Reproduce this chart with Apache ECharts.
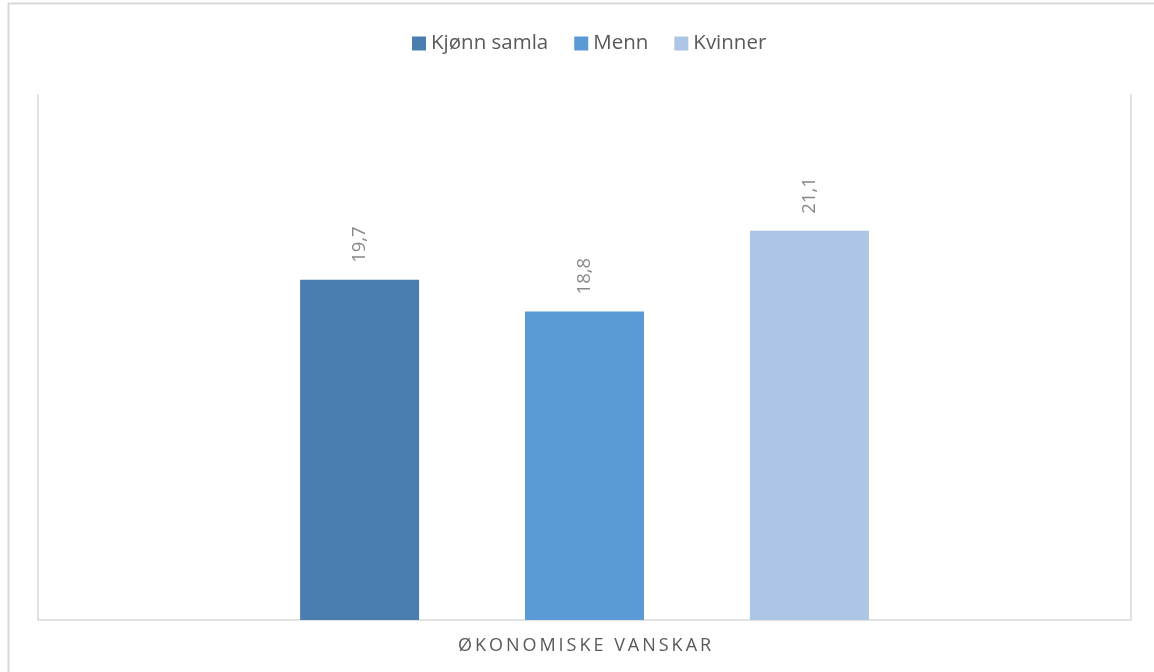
<!DOCTYPE html>
<html><head><meta charset="utf-8">
<script src="https://cdn.jsdelivr.net/npm/echarts@6/dist/echarts.min.js"></script>
<style>html,body{margin:0;padding:0;background:#fff}#c{width:1154px;height:672px}</style>
</head><body><div id="c"></div>
<script>
const categories = ['ØKONOMISKE VANSKAR'];
const seriesNames = ['Kjønn samla', 'Menn', 'Kvinner'];
const valuesSamla = [19.7];
const valuesMenn = [18.8];
const valuesKvinner = [21.1];
const colors = ['#4a7eb0', '#5b9bd5', '#adc6e5'];
const seriesValues = [valuesSamla, valuesMenn, valuesKvinner];

const chart = echarts.init(document.getElementById('c'));
const font = '"Open Sans", Lato, sans-serif';
chart.setOption({
  animation: false,
  graphic: [{
    type: 'rect', shape: { x: 8.5, y: 3.5, width: 1300, height: 800 },
    style: { fill: 'none', stroke: '#d9d9d9', lineWidth: 2 }, silent: true, z: -1
  }],
  legend: {
    left: 412, top: 33, padding: 0, itemWidth: 14, itemHeight: 14, itemGap: 26,
    icon: 'rect',
    textStyle: { color: '#595959', fontSize: 20.5, fontFamily: font },
    data: seriesNames
  },
  grid: { left: 38, right: 23, top: 94, bottom: 52 },
  xAxis: {
    type: 'category', data: categories,
    axisLine: { lineStyle: { color: '#d9d9d9', width: 1.5 } },
    axisTick: { show: false },
    splitLine: { show: true, lineStyle: { color: '#d9d9d9', width: 1.5 } },
    axisLabel: {
      color: '#595959', fontSize: 18, fontFamily: font, margin: 17,
      formatter: v => v.split('').join('\u2009')
    }
  },
  yAxis: { type: 'value', min: 10, max: 25, show: false, splitLine: { show: false } },
  series: seriesNames.map((n, i) => ({
    name: n, type: 'bar', data: seriesValues[i], barWidth: 119, barGap: '89%',
    itemStyle: { color: colors[i] },
    label: {
      show: true, position: 'top', rotate: 90, align: 'left', verticalAlign: 'middle',
      distance: 17, color: '#888888', fontSize: 18.5, fontFamily: font,
      formatter: p => String(p.value).replace('.', ',')
    }
  }))
});
</script></body></html>
